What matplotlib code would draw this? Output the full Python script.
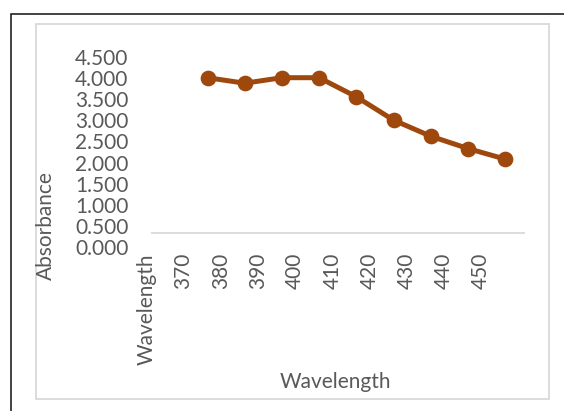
import matplotlib
matplotlib.use("Agg")
import matplotlib.pyplot as plt
import matplotlib.transforms as mtransforms
from matplotlib.patches import Rectangle

categories = ["Wavelength", "370", "380", "390", "400", "410", "420", "430", "440", "450"]
absorbance = [None, 4.00, 3.87, 4.00, 4.00, 3.55, 3.00, 2.62, 2.33, 2.08]
y_ticks = [0, 0.5, 1.0, 1.5, 2.0, 2.5, 3.0, 3.5, 4.0, 4.5]

plt.rcParams["font.family"] = ["Lato", "DejaVu Sans"]
text_color = "#595959"
line_color = "#9E480E"
fs = 15

fig = plt.figure(figsize=(5.64, 4.11), dpi=100)

# outer borders (black frame and grey chart area)
fig.patches.append(Rectangle((10.7 / 564, -0.1), 1, 1.1 - 14 / 411, transform=fig.transFigure,
                             fill=False, edgecolor="#222222", linewidth=1.2))
fig.patches.append(Rectangle((36 / 564, 12 / 411), 513.3 / 564, 375 / 411, transform=fig.transFigure,
                             fill=False, edgecolor="#D9D9D9", linewidth=1.3))

ax = fig.add_axes([151.7 / 564, 1 - 247.3 / 411, 372 / 564, 190.8 / 411])

xs = [i for i, v in enumerate(absorbance) if v is not None]
ys = [v for v in absorbance if v is not None]
ax.plot(xs, ys, color=line_color, linewidth=3.6, marker="o", markersize=10.3)

ax.set_xlim(-0.5, len(categories) - 0.5)
ax.set_ylim(0, 4.5)
ax.set_yticks(y_ticks)
ax.set_yticklabels([f"{t:.3f}" for t in y_ticks], fontsize=fs, color=text_color)
ax.tick_params(axis="y", length=0, pad=16.8)
ax.set_xticks([])

for side in ["top", "right", "left"]:
    ax.spines[side].set_visible(False)
ax.spines["bottom"].set_position(("axes", 0.073))
ax.spines["bottom"].set_color("#D9D9D9")
ax.spines["bottom"].set_linewidth(1.3)

offset = mtransforms.ScaledTranslation(-0.24, 0, fig.dpi_scale_trans)
for i, lab in enumerate(categories):
    ax.text(i, -0.03, lab, transform=ax.get_xaxis_transform() + offset,
            rotation=90, ha="center", va="top", fontsize=fs, color=text_color)

fig.text(335 / 564, 1 - 381.7 / 411, "Wavelength", ha="center", va="center",
         fontsize=fs, color=text_color)
fig.text(45.5 / 564, 1 - 226 / 411, "Absorbance", ha="center", va="center",
         rotation=90, fontsize=fs, color=text_color)

fig.savefig("out.png", dpi=100)
